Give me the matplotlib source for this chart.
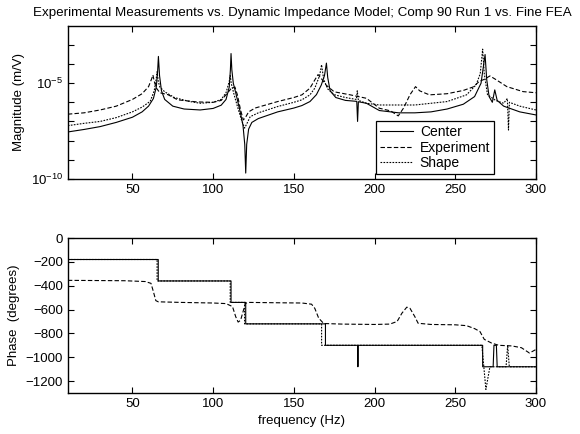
import numpy as np
import matplotlib
matplotlib.use("Agg")
import matplotlib.pyplot as plt

plt.rcParams['font.family'] = ['Liberation Sans', 'DejaVu Sans']
plt.rcParams['mathtext.fontset'] = 'custom'
plt.rcParams['mathtext.rm'] = 'Liberation Sans'

# Magnitude (log10 of m/V)
center_f = [10, 20, 30, 40, 50, 56, 60, 63, 64.8, 65.6, 66.1, 66.8, 68, 70, 75, 82, 92, 100,
            105, 108, 110, 110.7, 111.1, 111.6, 112.5, 114, 116.5, 118.5, 119.6, 120.2, 120.8,
            122, 124, 128, 140, 150, 155, 160, 164, 167, 169, 170.2, 171, 172.5, 176, 182,
            189, 189.5, 190, 195, 203, 215, 225, 235, 245, 255, 262, 266, 268.5, 269.5, 271,
            273, 274.5, 276, 280, 290, 300]
center_lg = [-7.55, -7.42, -7.27, -7.05, -6.78, -6.5, -6.2, -5.8, -5.2, -4.4, -3.6, -4.6, -5.4,
             -5.85, -6.2, -6.35, -6.4, -6.32, -6.15, -5.85, -5.2, -4.3, -3.45, -4.3, -5.0, -5.5,
             -6.4, -7.2, -8.2, -9.7, -8.2, -7.4, -7.05, -6.85, -6.5, -6.3, -6.17, -5.96, -5.6,
             -5.1, -4.6, -3.95, -4.7, -5.4, -5.75, -5.9, -5.95, -7.0, -5.97, -6.05, -6.43,
             -6.55, -6.55, -6.5, -6.35, -6.1, -5.7, -5.0, -3.5, -4.8, -5.7, -6.0, -5.35, -5.9,
             -6.2, -6.5, -6.66]

exper_f = [10, 20, 30, 40, 50, 56, 60, 62, 62.7, 63.5, 64.8, 67, 72, 78, 90, 100, 105, 108,
           111, 113.5, 115, 117, 118.7, 120, 122, 126, 140, 150, 155, 160, 163, 165, 167, 170,
           175, 185, 195, 203, 210, 214.7, 218, 222, 225.4, 228, 234, 245, 255, 261, 265, 268,
           271.5, 275, 282, 292, 300]
exper_lg = [-6.62, -6.55, -6.4, -6.2, -5.85, -5.55, -5.18, -4.75, -4.57, -4.9, -5.25, -5.5,
            -5.6, -5.87, -5.98, -6.0, -5.9, -5.6, -5.3, -5.2, -5.6, -6.4, -6.92, -6.8, -6.5,
            -6.3, -5.96, -5.75, -5.61, -5.26, -4.83, -4.55, -4.75, -5.1, -5.45, -5.61, -5.79,
            -6.31, -6.45, -6.71, -6.3, -5.6, -5.18, -5.4, -5.61, -5.55, -5.38, -5.2, -4.9,
            -4.8, -4.62, -4.8, -5.18, -5.44, -5.5]

shape_f = [10, 20, 30, 40, 50, 56, 61, 63.5, 64.7, 65.3, 66, 67, 70, 76, 85, 92, 100, 105,
           108, 110, 110.6, 111.2, 113, 115, 117.5, 119.5, 121, 123, 128, 140, 150, 155, 160,
           163, 166, 167.2, 168.5, 171, 175, 182, 188.8, 189.3, 190, 195, 203, 215, 225, 235,
           245, 257, 263, 265.5, 267, 268, 270, 275, 280, 282.3, 283, 283.6, 290, 300]
shape_lg = [-7.22, -7.1, -7.0, -6.8, -6.5, -6.25, -5.95, -5.4, -4.8, -4.4, -4.9, -5.2, -5.45,
            -5.75, -5.95, -6.05, -6.0, -5.85, -5.5, -4.9, -4.6, -5.0, -5.6, -6.2, -6.9, -7.35,
            -7.1, -6.75, -6.55, -6.22, -6.0, -5.87, -5.61, -5.26, -4.6, -4.04, -4.8, -5.3,
            -5.6, -5.75, -5.85, -5.4, -5.9, -6.05, -6.14, -6.14, -6.14, -6.05, -5.96, -5.61,
            -5.08, -4.5, -3.22, -4.5, -5.6, -5.9, -6.05, -5.8, -7.45, -6.0, -6.2, -6.4]

# Phase (degrees)
center_pf = [10, 66, 66, 111.1, 111.1, 120.2, 120.2, 169.6, 169.6, 189.5, 189.7, 189.9, 267,
             267, 273.5, 274, 275.5, 276, 300]
center_ph = [-180, -180, -360, -360, -540, -540, -720, -720, -900, -900, -1080, -900, -900,
             -1080, -1080, -900, -900, -1080, -1080]

shape_pf = [10, 65.3, 65.3, 110.6, 110.6, 119.5, 119.5, 167.2, 167.2, 266.5, 269, 271.5,
            281.5, 282.5, 283.5, 300]
shape_ph = [-180, -180, -360, -360, -540, -540, -720, -720, -900, -900, -1270, -1080,
            -1080, -900, -1080, -1080]

exper_pf = [10, 45, 58, 61.5, 63, 64.5, 66, 80, 100, 108, 112, 114, 115.5, 117, 118.5, 120,
            122, 140, 155, 161, 163, 165.4, 168.5, 180, 200, 209.5, 214, 217, 220, 222, 225,
            227, 235, 250, 257, 262, 265.3, 268, 272.5, 277, 285, 291, 296, 300]
exper_ph = [-355, -358, -365, -380, -450, -525, -535, -540, -545, -550, -575, -660, -705,
            -690, -620, -548, -540, -543, -545, -555, -590, -672, -717, -722, -725, -722,
            -700, -630, -580, -590, -660, -715, -725, -728, -735, -760, -784, -850, -881,
            -900, -905, -920, -965, -935]

labels = ['Center', 'Experiment', 'Shape']
dash_exp = (4, 2)
dash_shape = (1.5, 1.2)
fs = 9.5

fig = plt.figure(figsize=(5.8, 4.34), dpi=100)
ax1 = fig.add_axes([0.117, 0.588, 0.807, 0.3525])
ax2 = fig.add_axes([0.117, 0.0945, 0.807, 0.357])

ax1.semilogy(center_f, 10 ** np.array(center_lg), color='k', lw=0.8, label=labels[0])
ax1.semilogy(exper_f, 10 ** np.array(exper_lg), color='k', lw=0.8, dashes=dash_exp,
             label=labels[1])
ax1.semilogy(shape_f, 10 ** np.array(shape_lg), color='k', lw=0.8, dashes=dash_shape,
             label=labels[2])
ax1.set_ylim(1e-10, 1e-2)
ax1.set_yticks([1e-10, 1e-5])
ax1.set_yticklabels([r'$10^{-10}$', r'$10^{-5}$'])
ax1.set_yticks([10.0 ** k for k in range(-9, -2) if k != -5], minor=True)
ax1.yaxis.set_minor_formatter(matplotlib.ticker.NullFormatter())
ax1.set_ylabel('Magnitude (m/V)', fontsize=fs)
ax1.set_title('Experimental Measurements vs. Dynamic Impedance Model; Comp 90 Run 1 vs. Fine FEA',
              fontsize=9.6, pad=7)
leg = ax1.legend(loc='lower right', bbox_to_anchor=(0.91, 0.033), borderaxespad=0,
                 fontsize=10, fancybox=False, framealpha=1, edgecolor='k',
                 handlelength=2.4, handletextpad=0.5, labelspacing=0.12, borderpad=0.25)
leg.get_frame().set_linewidth(0.9)

ax2.plot(center_pf, center_ph, color='k', lw=0.8)
ax2.plot(exper_pf, exper_ph, color='k', lw=0.8, dashes=dash_exp)
ax2.plot(shape_pf, shape_ph, color='k', lw=0.8, dashes=dash_shape)
ax2.set_ylim(-1300, 0)
ax2.set_yticks(np.arange(-1200, 1, 200))
ax2.set_ylabel('Phase  (degrees)', fontsize=fs)
ax2.set_xlabel('frequency (Hz)', fontsize=fs)

for ax in (ax1, ax2):
    ax.set_xlim(10, 300)
    ax.set_xticks([50, 100, 150, 200, 250, 300])
    ax.tick_params(direction='in', top=True, right=True, labelsize=fs, length=4, width=0.8)
    ax.tick_params(which='minor', direction='in', right=True, length=4, width=0.8)
    for s in ax.spines.values():
        s.set_linewidth(1.0)

fig.savefig('out.png', dpi=100)
